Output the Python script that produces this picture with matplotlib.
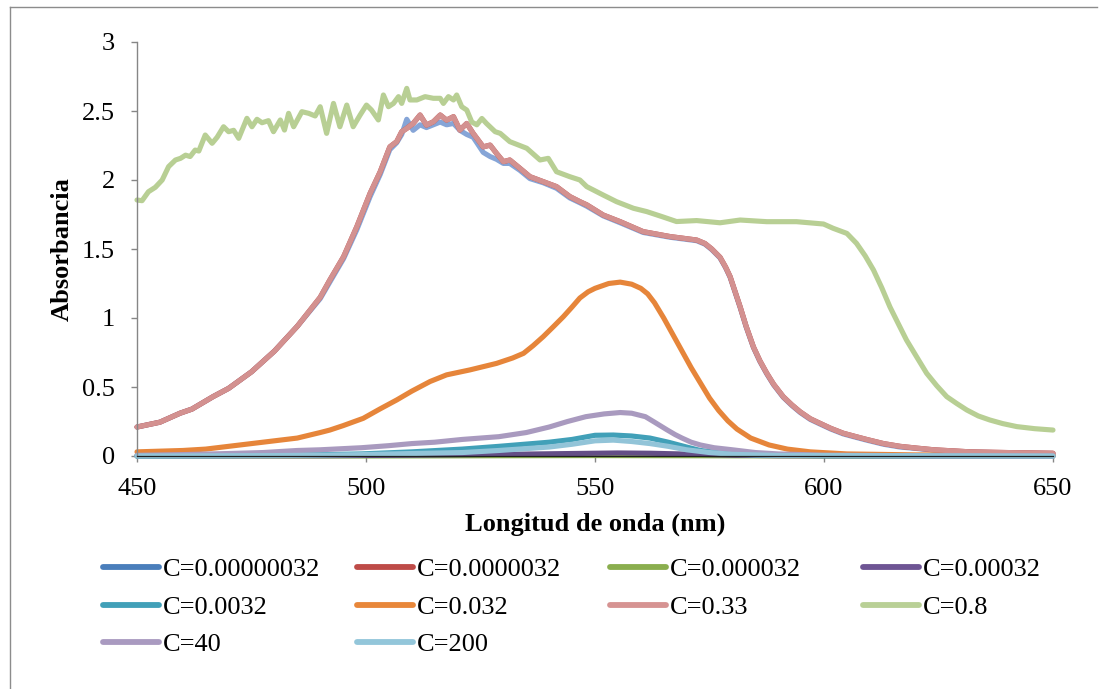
import matplotlib
matplotlib.use("Agg")
import matplotlib.pyplot as plt
from matplotlib.lines import Line2D

plt.rcParams['font.family'] = ['Liberation Serif', 'DejaVu Serif']

# ---------------- data ----------------
labels = ["C=0.00000032", "C=0.0000032", "C=0.000032", "C=0.00032",
          "C=0.0032", "C=0.032", "C=0.33", "C=0.8", "C=40", "C=200"]

wl_033 = [450, 455, 459.4, 462, 466.6, 470, 472.5, 475, 480, 485, 490, 492.1, 495.1,
          498.0, 500.9, 503.1, 505.2, 506.7, 507.8, 508.9, 510.3, 511.8, 513.2, 514.7,
          516.2, 517.6, 519.1, 520.5, 522.0, 523.4, 525.6, 527.1, 528.5, 530.0, 531.4,
          533.6, 535.8, 538.7, 541.6, 544.5, 546.7, 548.2, 551.8, 555.5, 560.5, 566.4,
          572.2, 574.0, 575.5, 577.3, 578.5, 579.5, 580.6, 581.7, 583.0, 584.6, 586.0,
          587.5, 589.0, 591.1, 593.0, 594.8, 597.0, 599.1, 601.5, 604.2, 607.0, 609.3,
          613.0, 616.6, 620.0, 624.0, 632.0, 640.0, 650.0]
a_033 = [0.21, 0.245, 0.31, 0.34, 0.43, 0.49, 0.55, 0.61, 0.76, 0.94, 1.15, 1.275, 1.444,
         1.662, 1.904, 2.06, 2.24, 2.278, 2.35, 2.374, 2.41, 2.471, 2.398, 2.422,
         2.471, 2.434, 2.459, 2.362, 2.41, 2.338, 2.24, 2.253, 2.193, 2.133, 2.145,
         2.085, 2.024, 1.988, 1.952, 1.88, 1.843, 1.82, 1.746, 1.698, 1.626, 1.59,
         1.565, 1.54, 1.50, 1.44, 1.37, 1.30, 1.19, 1.08, 0.94, 0.79, 0.69,
         0.60, 0.52, 0.43, 0.37, 0.32, 0.27, 0.237, 0.20, 0.165, 0.14, 0.12,
         0.09, 0.07, 0.058, 0.045, 0.03, 0.025, 0.02]

wl_00000032 = wl_033
a_00000032 = [0.21, 0.245, 0.31, 0.34, 0.43, 0.49, 0.55, 0.61, 0.76, 0.94, 1.14, 1.26, 1.43,
              1.64, 1.88, 2.04, 2.22, 2.27, 2.33, 2.44, 2.36, 2.40, 2.38, 2.40,
              2.42, 2.40, 2.41, 2.36, 2.33, 2.31, 2.20, 2.17, 2.15, 2.12, 2.12,
              2.07, 2.01, 1.98, 1.94, 1.87, 1.835, 1.81, 1.74, 1.69, 1.62, 1.585,
              1.56, 1.535, 1.495, 1.435, 1.365, 1.295, 1.185, 1.075, 0.935, 0.785, 0.685,
              0.595, 0.515, 0.425, 0.365, 0.315, 0.265, 0.232, 0.195, 0.16, 0.135, 0.115,
              0.085, 0.065, 0.055, 0.042, 0.028, 0.023, 0.018]

# C=0.0000032 is completely hidden under C=0.33 in the reference (same values)
wl_0000032 = wl_033
a_0000032 = a_033

wl_000032 = [450, 500, 550, 600, 650]
a_000032 = [0.0, 0.0, 0.003, 0.0, 0.0]

wl_00032 = [450, 490, 510, 530, 545, 555, 562, 570, 580, 590, 650]
a_00032 = [0.0, 0.002, 0.006, 0.012, 0.018, 0.022, 0.02, 0.014, 0.006, 0.002, 0.0]

wl_0032 = [450, 470, 480, 490, 499, 510, 521, 529, 540, 545, 550, 554, 558, 562,
           566, 570, 573, 578, 585, 600, 650]
a_0032 = [0.0, 0.003, 0.006, 0.01, 0.015, 0.03, 0.05, 0.07, 0.1, 0.12, 0.15, 0.152,
          0.145, 0.13, 0.10, 0.065, 0.04, 0.02, 0.008, 0.002, 0.0]

wl_032 = [450, 455, 460, 465, 470, 475, 480, 485, 490, 492.1, 495, 499.4, 503, 506.7,
          510, 514.0, 517.6, 522.7, 528.5, 532, 534.4, 536.5, 538.7, 541, 543.1, 545,
          546.7, 548.5, 550, 553, 555.5, 558, 560, 561.5, 563, 565, 567, 569, 571, 573,
          575, 577, 579, 581, 584, 588, 592, 597, 605, 620, 650]
a_032 = [0.03, 0.035, 0.04, 0.05, 0.07, 0.09, 0.11, 0.13, 0.17, 0.188, 0.22, 0.273, 0.34,
         0.406, 0.47, 0.54, 0.588, 0.624, 0.671, 0.71, 0.744, 0.80, 0.865, 0.94, 1.01, 1.08,
         1.145, 1.19, 1.215, 1.25, 1.26, 1.245, 1.215, 1.175, 1.11, 1.00, 0.88, 0.76,
         0.64, 0.53, 0.42, 0.33, 0.255, 0.195, 0.13, 0.08, 0.05, 0.03, 0.015, 0.008, 0.005]

wl_08 = [450.0, 451.1, 452.5, 454.0, 455.5, 456.9, 458.4, 459.5, 460.6, 461.6, 462.7,
         463.5, 464.9, 466.4, 467.5, 468.9, 470.0, 471.1, 472.2, 474.0, 475.1, 476.2,
         477.3, 478.7, 479.8, 481.3, 482.2, 483.1, 484.2, 486.0, 487.5, 488.9, 490.0,
         491.4, 492.9, 494.3, 495.8, 497.2, 498.7, 500.1, 501.2, 502.7, 503.8, 504.9,
         506.0, 507.1, 507.8, 508.9, 509.6, 511.1, 512.9, 514.7, 516.2, 516.9, 518.0,
         519.1, 519.8, 520.9, 522.0, 523.1, 524.2, 525.3, 526.3, 528.2, 529.3, 531.4,
         535.1, 538.0, 539.8, 541.6, 544.5, 546.7, 548.2, 551.8, 554.7, 558.4, 561.3,
         564.6, 567.8, 572.2, 577.3, 581.7, 587.5, 594.0, 599.9, 602.0, 605.0, 607.1,
         609.0, 610.8, 612.6, 614.4, 616.2, 618.0, 620.2, 622.4, 624.6, 626.8, 629.0,
         631.2, 633.7, 636.2, 639.0, 642.1, 646.0, 650.0]
a_08 = [1.855, 1.85, 1.915, 1.947, 2.0, 2.097, 2.145, 2.157, 2.18, 2.17, 2.217,
        2.21, 2.326, 2.266, 2.31, 2.386, 2.35, 2.36, 2.302, 2.447, 2.386, 2.44,
        2.415, 2.43, 2.35, 2.435, 2.362, 2.483, 2.386, 2.495, 2.483, 2.464, 2.531,
        2.338, 2.555, 2.386, 2.543, 2.386, 2.47, 2.543, 2.507, 2.435, 2.616, 2.531,
        2.555, 2.604, 2.555, 2.664, 2.58, 2.58, 2.604, 2.592, 2.592, 2.555, 2.604,
        2.58, 2.616, 2.531, 2.507, 2.42, 2.40, 2.446, 2.41, 2.35, 2.338, 2.278,
        2.23, 2.145, 2.157, 2.06, 2.024, 2.0, 1.952, 1.891, 1.843, 1.795, 1.771,
        1.735, 1.699, 1.706, 1.69, 1.71, 1.698, 1.698, 1.681, 1.65, 1.613, 1.541,
        1.45, 1.348, 1.22, 1.08, 0.96, 0.841, 0.72, 0.60, 0.51, 0.43, 0.38,
        0.333, 0.29, 0.261, 0.235, 0.213, 0.198, 0.188]

wl_40 = [450, 460, 470, 477.5, 485, 490, 499, 505, 510, 515, 521, 525, 529, 535, 540,
         544, 548, 552, 555.5, 558, 561, 563, 565.7, 567.5, 569, 571, 573, 576, 580, 585,
         590, 600, 620, 650]
a_40 = [0.005, 0.01, 0.018, 0.025, 0.04, 0.045, 0.06, 0.075, 0.09, 0.1, 0.12, 0.13, 0.14,
        0.17, 0.21, 0.25, 0.285, 0.305, 0.315, 0.31, 0.285, 0.245, 0.19, 0.155, 0.13,
        0.10, 0.08, 0.06, 0.045, 0.025, 0.015, 0.006, 0.002, 0.0]

wl_200 = [450, 480, 490, 499, 510, 521, 529, 540, 545, 550, 554, 558, 562, 566, 570,
          575, 580, 590, 650]
a_200 = [0.0, 0.003, 0.006, 0.01, 0.018, 0.025, 0.04, 0.065, 0.085, 0.11, 0.115, 0.105,
         0.09, 0.07, 0.045, 0.025, 0.012, 0.004, 0.0]

x_ticks = [450, 500, 550, 600, 650]
y_ticks = [0, 0.5, 1, 1.5, 2, 2.5, 3]
y_tick_labels = ["0", "0.5", "1", "1.5", "2", "2.5", "3"]

series = [(wl_00000032, a_00000032), (wl_0000032, a_0000032), (wl_000032, a_000032),
          (wl_00032, a_00032), (wl_0032, a_0032), (wl_032, a_032), (wl_033, a_033),
          (wl_08, a_08), (wl_40, a_40), (wl_200, a_200)]

legend_colors = ["#4A7EBB", "#BE4B48", "#8AAE4E", "#6E5594", "#41A0B8", "#E8873A",
                 "#D69392", "#B9D096", "#A99AC0", "#93C6DA"]
line_colors = ["#86A5D7", "#BE4B48", "#8AAE4E", "#644E86", "#41A0B8", "#E6853A",
               "#D39190", "#B8CF94", "#A99ABF", "#92C4D8"]

# ---------------- figure ----------------
W, H = 1107, 689
fig = plt.figure(figsize=(W / 100, H / 100), dpi=100)
ax = fig.add_axes([137 / W, 1 - 456 / H, 916 / W, 414 / H])

lw = 3.7
for (wl, a), c in zip(series, line_colors):
    ax.plot(wl, a, color=c, lw=lw, solid_capstyle='round', solid_joinstyle='round',
            clip_on=False)

ax.set_xlim(450, 650)
ax.set_ylim(0, 3)
ax.set_xticks(x_ticks)
ax.set_xticklabels([str(v) for v in x_ticks])
ax.set_yticks(y_ticks)
ax.set_yticklabels(y_tick_labels)

for s in ['top', 'right']:
    ax.spines[s].set_visible(False)
ax.spines['left'].set_color('#868686')
ax.spines['left'].set_linewidth(1.0)
ax.spines['bottom'].set_color('#202020')
ax.spines['bottom'].set_linewidth(0.9)
ax.spines['bottom'].set_zorder(10)

ax.tick_params(axis='both', direction='out', length=4, width=1.0, color='#868686',
               labelsize=19, pad=12, labelcolor='black')

ax.set_xlabel("Longitud de onda (nm)", fontsize=19, fontweight='bold', va='center')
ax.xaxis.set_label_coords(0.5, (456 - 524) / 414)
ax.set_ylabel("Absorbancia", fontsize=19, fontweight='bold', va='center')
ax.yaxis.set_label_coords((62 - 137) / 916, 0.5)

# ---------------- legend (4 columns, 3 rows, Excel-like) ----------------
col_x = [103, 357, 610, 863]
legend_top = 558
for ci in range(4):
    idx = [i for i in range(len(labels)) if i % 4 == ci]
    handles = [Line2D([], [], color=legend_colors[i], lw=4.2, solid_capstyle='round')
               for i in idx]
    fig.legend(handles, [labels[i] for i in idx], loc='upper left',
               bbox_to_anchor=(col_x[ci] / W, 1 - legend_top / H),
               frameon=False, fontsize=19, handlelength=2.12,
               handletextpad=0.15, borderpad=0, borderaxespad=0,
               labelspacing=0.53)

# outer chart border (left and top edges visible in reference)
fig.add_artist(Line2D([10 / W, 10 / W], [0, 1 - 7 / H], color='#8C8C8C', lw=1.0))
fig.add_artist(Line2D([10 / W, 1097 / W], [1 - 7 / H, 1 - 7 / H], color='#8C8C8C', lw=1.0))

fig.savefig("out.png", dpi=100)
